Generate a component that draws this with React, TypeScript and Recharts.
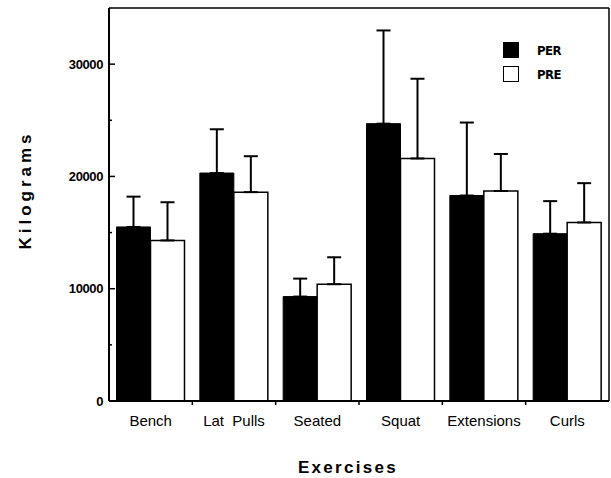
import { BarChart, Bar, XAxis, YAxis, ErrorBar, Legend, Label } from "recharts";

const exercises = ["Bench", "Lat  Pulls", "Seated", "Squat", "Extensions", "Curls"];
const perValues = [15500, 20300, 9300, 24700, 18300, 14900];
const perErrors = [2700, 3900, 1600, 8300, 6500, 2900];
const preValues = [14300, 18600, 10400, 21600, 18700, 15900];
const preErrors = [3400, 3200, 2400, 7100, 3300, 3500];
const yTicks = [0, 5000, 10000, 15000, 20000, 25000, 30000];

const data = exercises.map((name, i) => ({
  name,
  per: perValues[i],
  perErr: [0, perErrors[i]],
  pre: preValues[i],
  preErr: [0, preErrors[i]],
}));

const W = 611;
const H = 478;
const Y_AXIS_W = 109;
const RIGHT_AXIS_W = 1;
const RIGHT = 1;
const PLOT_W = W - Y_AXIS_W - RIGHT - RIGHT_AXIS_W;
const FONT = "'Liberation Sans', Arial, Helvetica, sans-serif";

function YTick({ x, y, payload }: any) {
  const major = payload.value % 10000 === 0;
  return (
    <g>
      <line x1={x} x2={x + (major ? 6 : 3)} y1={y} y2={y} stroke="#000" strokeWidth={1.5} />
      {major && (
        <text x={x - 6} y={y} textAnchor="end" dominantBaseline="central" fontFamily={FONT} fontSize={13} fontWeight={700} letterSpacing={-0.4} fill="#000">
          {payload.value}
        </text>
      )}
    </g>
  );
}

function XTick({ x, y, payload, index }: any) {
  const half = PLOT_W / exercises.length / 2;
  return (
    <g>
      {index > 0 && <line x1={x - half} x2={x - half} y1={y} y2={y + 4} stroke="#000" strokeWidth={1.5} />}
      <text x={x} y={y + 25} textAnchor="middle" fontFamily={FONT} fontSize={15} fill="#000" style={{ whiteSpace: "pre" }}>
        {payload.value}
      </text>
    </g>
  );
}

function LegendBox({ payload }: any) {
  return (
    <div>
      {(payload || []).map((p: any) => (
        <div key={p.value} style={{ display: "flex", alignItems: "center", height: 16, marginBottom: 8 }}>
          <div
            style={{
              width: 16,
              height: 16,
              boxSizing: "border-box",
              background: p.value === "PER" ? "#000" : "#fff",
              border: "1.5px solid #000",
            }}
          />
          <span style={{ marginLeft: 18, fontFamily: "'Liberation Sans Narrow', 'DejaVu Sans Condensed', sans-serif", fontSize: 13, fontWeight: 700, letterSpacing: -0.5, color: "#000" }}>
            {p.value}
          </span>
        </div>
      ))}
    </div>
  );
}

export default function App() {
  return (
    <div style={{ position: "absolute", left: 0, top: 0, background: "#fff" }}>
      <BarChart width={W} height={H} data={data} margin={{ top: 7, right: RIGHT, left: 0, bottom: 0 }} barCategoryGap="9%" barGap={0}>
        <XAxis
          dataKey="name"
          height={77}
          tickLine={false}
          tickSize={0}
          tickMargin={0}
          axisLine={{ stroke: "#000", strokeWidth: 2 }}
          tick={<XTick />}
          interval={0}
        >
          <Label
            content={({ viewBox }: any) => (
              <text x={viewBox.x + viewBox.width / 2 - 11} y={473} textAnchor="middle" fontFamily={FONT} fontSize={17} fontWeight={700} letterSpacing={2.3} fill="#000">
                Exercises
              </text>
            )}
          />
        </XAxis>
        <XAxis xAxisId="top" dataKey="name" orientation="top" height={1} tick={false} tickLine={false} axisLine={{ stroke: "#000", strokeWidth: 1.5 }} />
        <YAxis
          width={Y_AXIS_W}
          domain={[0, 35000]}
          ticks={yTicks}
          tickLine={false}
          tickSize={0}
          tickMargin={0}
          axisLine={{ stroke: "#000", strokeWidth: 2 }}
          tick={<YTick />}
          interval={0}
        >
          <Label
            content={() => (
              <text x={25} y={190} transform="rotate(-90 25 190)" textAnchor="middle" dominantBaseline="central" fontFamily={FONT} fontSize={17} fontWeight={700} letterSpacing={4} fill="#000">
                Kilograms
              </text>
            )}
          />
        </YAxis>
        <YAxis yAxisId="right" orientation="right" width={RIGHT_AXIS_W} domain={[0, 35000]} tick={false} tickLine={false} axisLine={{ stroke: "#000", strokeWidth: 1.5 }} />
        <Legend
          content={<LegendBox />}
          layout="horizontal"
          verticalAlign="middle"
          align="center"
          wrapperStyle={{ position: "absolute", top: 42, left: 503, width: 80, height: 48 }}
        />
        <Bar dataKey="per" name="PER" fill="#000" stroke="#000" strokeWidth={1} isAnimationActive={false}>
          <ErrorBar dataKey="perErr" width={7} stroke="#000" strokeWidth={2} />
        </Bar>
        <Bar dataKey="pre" name="PRE" fill="#fff" stroke="#000" strokeWidth={1.5} isAnimationActive={false}>
          <ErrorBar dataKey="preErr" width={7} stroke="#000" strokeWidth={2} />
        </Bar>
      </BarChart>
    </div>
  );
}
